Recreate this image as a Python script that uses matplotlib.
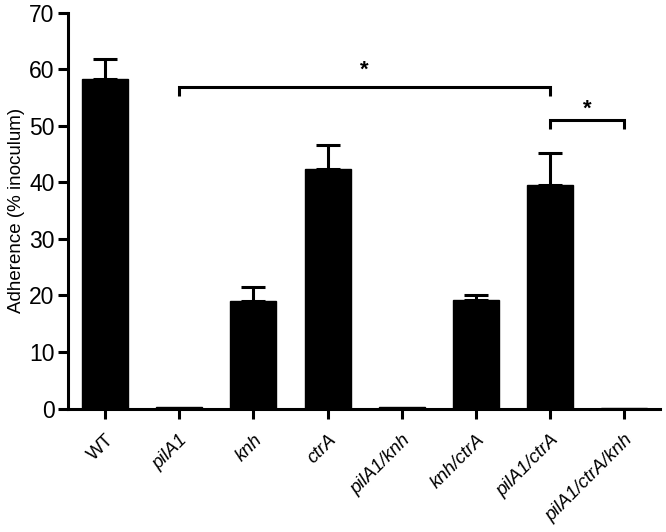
import matplotlib
matplotlib.use("Agg")
import matplotlib.pyplot as plt
import numpy as np

plt.rcParams['font.family'] = ['Liberation Sans', 'DejaVu Sans']

categories = ["WT", "pilA1", "knh", "ctrA", "pilA1/knh", "knh/ctrA", "pilA1/ctrA", "pilA1/ctrA/knh"]
italic = [False, True, True, True, True, True, True, True]
values = [58.2, 0.3, 19.0, 42.3, 0.3, 19.2, 39.5, 0.1]
errors = [3.6, 0.0, 2.5, 4.3, 0.0, 0.9, 5.7, 0.0]
yticks = [0, 10, 20, 30, 40, 50, 60, 70]

# significance brackets: (start index, end index, height, drop, star height)
brackets = [(1, 6, 56.8, 1.6, 57.95), (6, 7, 51.0, 1.6, 51.1)]

fig = plt.figure(figsize=(6.66, 5.32), dpi=100)
ax = fig.add_axes([0.102, 0.232, 0.889, 0.744])

x = np.arange(len(categories))
ax.bar(x, values, width=0.62, color='black', edgecolor='black')
for xi, v, e in zip(x, values, errors):
    if e > 0:
        ax.errorbar(xi, v, yerr=[[0], [e]], fmt='none', ecolor='black',
                    elinewidth=2.2, capsize=8.6, capthick=2.2)

for a, b, h, d, s in brackets:
    ax.plot([a, a, b, b], [h - d, h, h, h - d], color='black', lw=2.2,
            solid_capstyle='butt', solid_joinstyle='miter', clip_on=False)
    ax.text((a + b) / 2, s, '*', ha='center', va='bottom', fontsize=16,
            fontweight='bold')

ax.set_xlim(-0.5, 7.48)
ax.set_ylim(0, 70)
ax.set_yticks(yticks)
ax.set_yticklabels([str(t) for t in yticks], fontsize=16.5)
ax.set_xticks(x)
ax.set_xticklabels(categories, rotation=45, ha='right', rotation_mode='anchor',
                   fontsize=13.5)
for lab, it in zip(ax.get_xticklabels(), italic):
    if it:
        lab.set_fontstyle('italic')

ax.set_ylabel('Adherence (% inoculum)', fontsize=13.5, labelpad=3)

for sp in ['top', 'right']:
    ax.spines[sp].set_visible(False)
for sp in ['left', 'bottom']:
    ax.spines[sp].set_linewidth(2.2)
ax.tick_params(axis='both', direction='out', length=7.5, width=2.2)
ax.tick_params(axis='x', pad=9)
ax.tick_params(axis='y', pad=2)

fig.savefig('out.png', dpi=100)
